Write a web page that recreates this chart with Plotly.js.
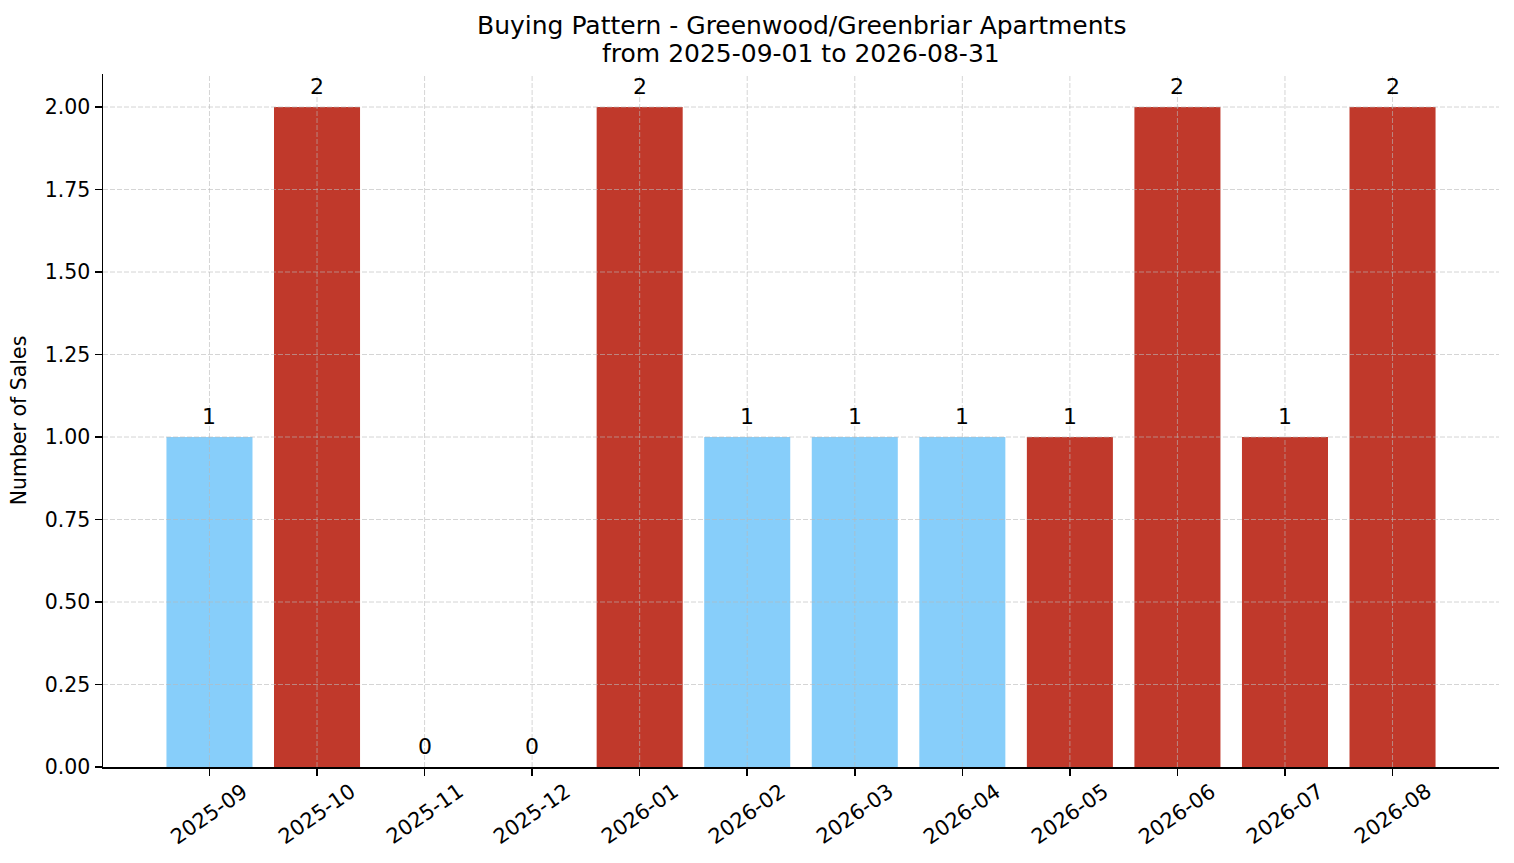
<!DOCTYPE html>
<html>
<head>
<meta charset="utf-8">
<script src="https://cdn.plot.ly/plotly-3.0.1.min.js"></script>
<style>
  html, body { margin: 0; padding: 0; background: #ffffff; }
  #chart { width: 1514px; height: 863px; }
</style>
</head>
<body>
<div id="chart"></div>
<script>
// Data
const months = ["2025-09", "2025-10", "2025-11", "2025-12", "2026-01", "2026-02",
                "2026-03", "2026-04", "2026-05", "2026-06", "2026-07", "2026-08"];
const sales = [1, 2, 0, 0, 2, 1, 1, 1, 1, 2, 1, 2];
// months flagged red in the source chart
const highlighted = [false, true, false, false, true, false, false, false, true, true, true, true];
const yTicks = [0, 0.25, 0.5, 0.75, 1, 1.25, 1.5, 1.75, 2];
const titleLines = ["Buying Pattern - Greenwood/Greenbriar Apartments", "from 2025-09-01 to 2026-08-31"];

const BLUE = "#87CEFA";
const RED = "#C0392B";
const FONT = "DejaVu Sans, sans-serif";
const GRID = "rgba(185,185,185,0.6)";

const barColors = highlighted.map(h => (h ? RED : BLUE));

const traces = [{
  type: "bar",
  x: months,
  y: sales,
  marker: { color: barColors, line: { width: 0 } },
  hoverinfo: "x+y",
  showlegend: false
}];

// value labels above bars
const valueLabels = months.map((m, i) => ({
  x: m, y: sales[i], xref: "x", yref: "y",
  text: String(sales[i]),
  showarrow: false,
  yanchor: "bottom",
  yshift: 6,
  font: { family: FONT, size: 22, color: "#000000" }
}));

// rotated month labels, centred under ticks like the original
const monthLabels = months.map(m => ({
  x: m, y: 0, xref: "x", yref: "paper",
  text: m,
  textangle: -35,
  showarrow: false,
  xanchor: "center",
  yanchor: "top",
  yshift: -9,
  font: { family: FONT, size: 21, color: "#000000" }
}));

// two-line title
const titleAnnots = titleLines.map((t, i) => ({
  x: 0.5, y: i === 0 ? 1.0693 : 1.0303, xref: "paper", yref: "paper",
  text: t,
  showarrow: false,
  xanchor: "center",
  yanchor: "middle",
  font: { family: FONT, size: 25, color: "#000000" }
}));

// grid drawn over the bars, as matplotlib does
const gridDash = "5px,2px";
const xGrid = months.map(m => ({
  type: "line", layer: "above", xref: "x", yref: "paper",
  x0: m, x1: m, y0: 0, y1: 1,
  line: { color: GRID, width: 1, dash: gridDash }
}));
const yGrid = yTicks.filter(v => v > 0).map(v => ({
  type: "line", layer: "above", xref: "paper", yref: "y",
  x0: 0, x1: 1, y0: v, y1: v,
  line: { color: GRID, width: 1, dash: gridDash }
}));

const layout = {
  width: 1514,
  height: 863,
  paper_bgcolor: "#ffffff",
  plot_bgcolor: "#ffffff",
  margin: { l: 103, r: 15, t: 74, b: 96 },
  font: { family: FONT, size: 21, color: "#000000" },
  bargap: 0.2,
  xaxis: {
    type: "category",
    range: [-0.99, 11.99],
    showticklabels: false,
    ticks: "outside",
    ticklen: 7,
    tickwidth: 1.5,
    tickcolor: "#000000",
    showline: true,
    linecolor: "#000000",
    linewidth: 1.5,
    showgrid: false,
    zeroline: false,
    layer: "above traces",
    fixedrange: true
  },
  yaxis: {
    range: [0, 2.1],
    tickvals: yTicks,
    ticktext: yTicks.map(v => v.toFixed(2)),
    ticks: "outside",
    ticklen: 7,
    tickwidth: 1.5,
    tickcolor: "#000000",
    tickfont: { family: FONT, size: 20.5, color: "#000000" },
    showline: true,
    linecolor: "#000000",
    linewidth: 1.5,
    showgrid: false,
    zeroline: false,
    layer: "above traces",
    title: {
      text: "Number of Sales",
      font: { family: FONT, size: 20.5, color: "#000000" },
      standoff: 12
    },
    fixedrange: true
  },
  shapes: xGrid.concat(yGrid),
  annotations: titleAnnots.concat(valueLabels, monthLabels)
};

Plotly.newPlot("chart", traces, layout, { displayModeBar: false, staticPlot: true });
</script>
</body>
</html>
